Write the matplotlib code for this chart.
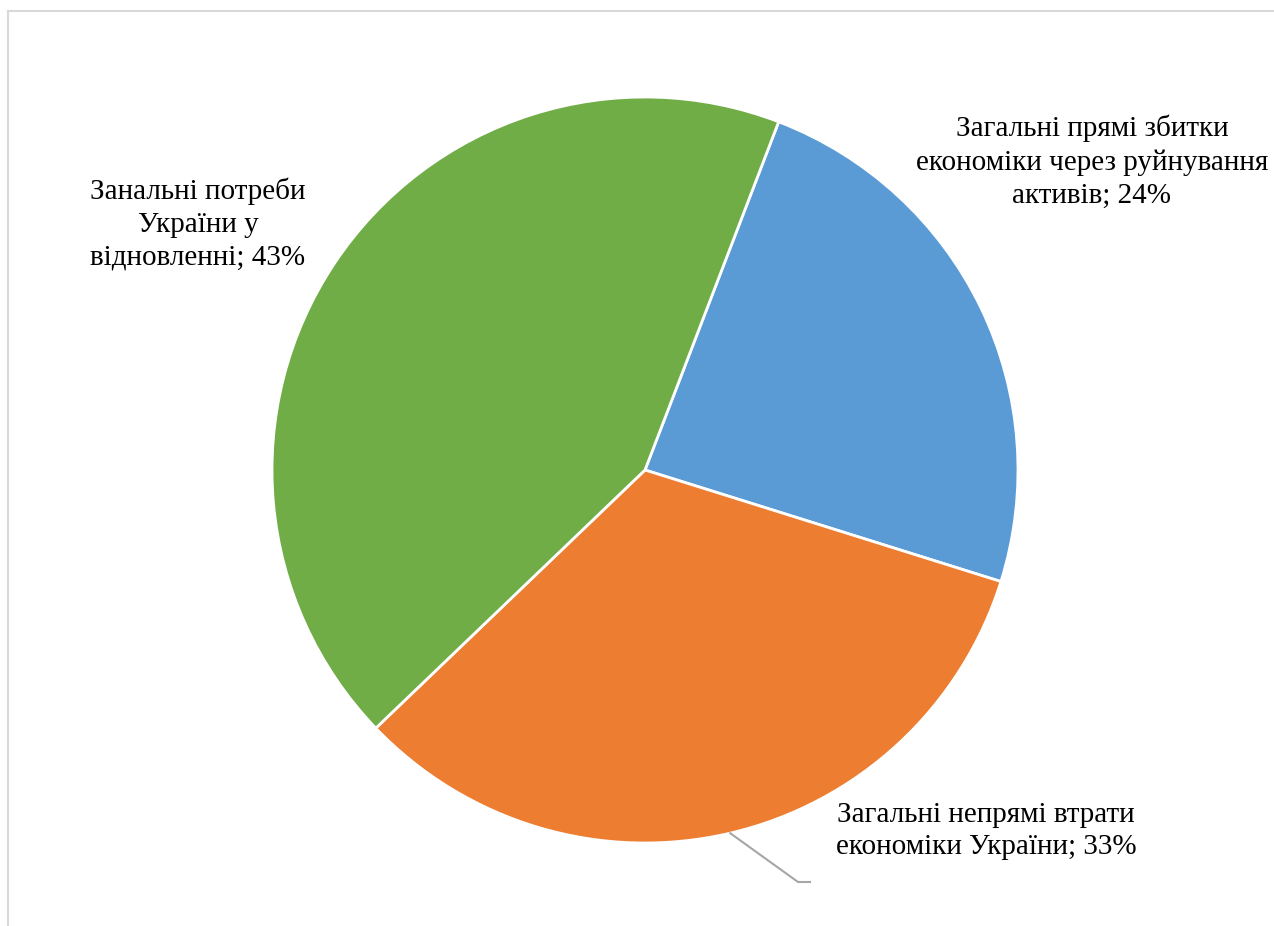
import numpy as np
import matplotlib.pyplot as plt
from matplotlib.lines import Line2D

# Data
labels = ['Загальні прямі збитки\nекономіки через руйнування\nактивів; 24%',
          'Загальні непрямі втрати\nекономіки України; 33%',
          'Занальні потреби\nУкраїни у\nвідновленні; 43%']
shares = [24, 33, 43]
colors = ['#5B9BD5', '#ED7D31', '#70AD47']

plt.rcParams['font.family'] = ['Liberation Serif', 'DejaVu Serif']

W, H = 1274, 926
fig = plt.figure(figsize=(W / 100, H / 100), dpi=100)
ax = fig.add_axes([0, 0, 1, 1])

# Pie in pixel-like coordinates (y from bottom)
cx, cy, r = 645, H - 470, 373
wedges, _ = ax.pie(shares, colors=colors, startangle=69, counterclock=False,
                   center=(cx, cy), radius=r,
                   wedgeprops=dict(edgecolor='white', linewidth=2))
ax.set_xlim(0, W)
ax.set_ylim(0, H)
ax.set_aspect('equal')
ax.axis('off')

# Data labels
label_pos = [(1092, H - 162), (986, H - 831), (198, H - 224)]
for (x, y), txt in zip(label_pos, labels):
    ax.text(x, y, txt, ha='center', va='center', fontsize=21, linespacing=1.35)

# Leader line for the orange slice, from the middle of its arc
w = wedges[1]
mid = np.deg2rad((w.theta1 + w.theta2) / 2)
x0, y0 = cx + r * np.cos(mid), cy + r * np.sin(mid)
ax.plot([x0, 798, 810], [y0, H - 882, H - 882], color='#a6a6a6', lw=1.5)

# Chart area border (top and left visible)
fig.add_artist(Line2D([8 / W, 1], [1 - 10.5 / H, 1 - 10.5 / H],
                      transform=fig.transFigure, color='#d9d9d9', lw=1.5))
fig.add_artist(Line2D([8 / W, 8 / W], [0, 1 - 10.5 / H],
                      transform=fig.transFigure, color='#d9d9d9', lw=1.5))

plt.savefig('out.png', dpi=100)
